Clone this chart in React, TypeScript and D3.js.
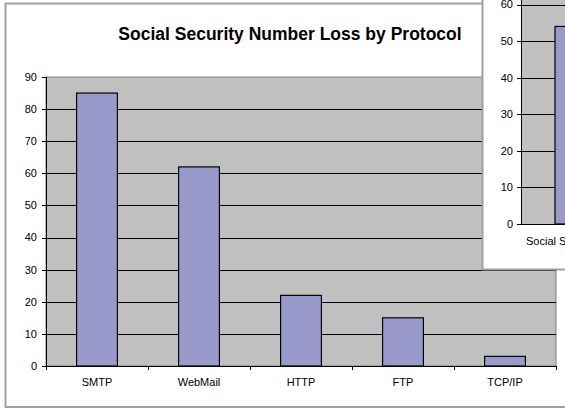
import React from "react";
import * as d3 from "d3";

const categories = ["SMTP", "WebMail", "HTTP", "FTP", "TCP/IP"];
const values = [85, 62, 22, 15, 3];
const yTicks = [0, 10, 20, 30, 40, 50, 60, 70, 80, 90];
const title = "Social Security Number Loss by Protocol";

const insetCategories = ["Social Security"];
const insetValues = [54];
const insetTicks = [0, 10, 20, 30, 40, 50, 60];

export default function App() {
  const W = 565, H = 410;
  const left = 46, right = 556, top = 77, bottom = 366;
  const x = d3.scaleBand<string>().domain(categories).range([left, right]).paddingInner(0.6).paddingOuter(0.3);
  const y = d3.scaleLinear().domain([0, 90]).range([bottom, top]);
  const step = x.step();
  const bounds = d3.range(categories.length + 1).map((i) => left + i * step);

  // inset (overlapping window)
  const iLeft = 521, iBottom = 224, iTop60 = 4.5;
  const iy = d3.scaleLinear().domain([0, 60]).range([iBottom, iTop60]);
  const ix = d3.scaleBand<string>().domain(insetCategories).range([iLeft, iLeft + 102]).paddingInner(0.6).paddingOuter(0.4);

  const font = "Arial, 'Liberation Sans', sans-serif";
  return (
    <svg width={W} height={H} style={{ position: "absolute", left: 0, top: 0, background: "#fff" }} fontFamily={font}>
      <rect x={5.5} y={3.5} width={650} height={403.5} fill="#fff" stroke="#a0a0a0" strokeWidth={2} />
      <text x={290} y={40} textAnchor="middle" fontWeight="bold" fontSize={17.5} fill="#000">{title}</text>
      <rect x={left} y={top} width={right - left} height={bottom - top} fill="#c0c0c0" stroke="#808080" strokeWidth={1} />
      {yTicks.filter((t) => t > 0 && t < 90).map((t) => (
        <line key={t} x1={left} x2={right} y1={Math.round(y(t)) + 0.5} y2={Math.round(y(t)) + 0.5} stroke="#000" strokeWidth={1} />
      ))}
      {categories.map((c, i) => (
        <rect key={c} x={x(c)!} y={y(values[i])} width={x.bandwidth()} height={bottom - y(values[i])} fill="#9999cc" stroke="#000" strokeWidth={1.2} />
      ))}
      <line x1={left + 0.5} x2={left + 0.5} y1={top} y2={bottom} stroke="#000" />
      <line x1={left} x2={right} y1={bottom + 0.5} y2={bottom + 0.5} stroke="#000" />
      {yTicks.map((t) => (
        <g key={t}>
          <line x1={left - 4} x2={left} y1={Math.round(y(t)) + 0.5} y2={Math.round(y(t)) + 0.5} stroke="#000" />
          <text x={37} y={y(t)} dy="0.35em" textAnchor="end" fontSize={11} fill="#000">{t}</text>
        </g>
      ))}
      {bounds.map((b, i) => (
        <line key={i} x1={Math.round(b) + 0.5} x2={Math.round(b) + 0.5} y1={bottom} y2={bottom + 4} stroke="#000" />
      ))}
      {categories.map((c) => (
        <text key={c} x={x(c)! + x.bandwidth() / 2} y={382} dy="0.35em" textAnchor="middle" fontSize={11} fill="#000">{c}</text>
      ))}

      {/* overlapping window */}
      <rect x={482.5} y={-10} width={120} height={279.5} fill="#fff" stroke="#a0a0a0" strokeWidth={2} />
      <rect x={iLeft} y={-10} width={60} height={iBottom + 10} fill="#c0c0c0" />
      {insetTicks.filter((t) => t > 0).map((t) => (
        <line key={t} x1={iLeft} x2={W} y1={Math.round(iy(t)) + 0.5} y2={Math.round(iy(t)) + 0.5} stroke="#000" />
      ))}
      {insetCategories.map((c, i) => (
        <rect key={c} x={ix(c)!} y={iy(insetValues[i])} width={ix.bandwidth()} height={iBottom - iy(insetValues[i])} fill="#9999cc" stroke="#000" strokeWidth={1.2} />
      ))}
      <line x1={iLeft + 0.5} x2={iLeft + 0.5} y1={-10} y2={iBottom} stroke="#000" />
      <line x1={iLeft} x2={W} y1={iBottom + 0.5} y2={iBottom + 0.5} stroke="#000" />
      {insetTicks.map((t) => (
        <g key={t}>
          <line x1={iLeft - 4} x2={iLeft} y1={Math.round(iy(t)) + 0.5} y2={Math.round(iy(t)) + 0.5} stroke="#000" />
          <text x={513} y={iy(t)} dy="0.35em" textAnchor="end" fontSize={11} fill="#000">{t}</text>
        </g>
      ))}
      {insetCategories.map((c) => (
        <text key={c} x={526} y={241} dy="0.35em" textAnchor="start" fontSize={11} fill="#000">{c}</text>
      ))}
    </svg>
  );
}
